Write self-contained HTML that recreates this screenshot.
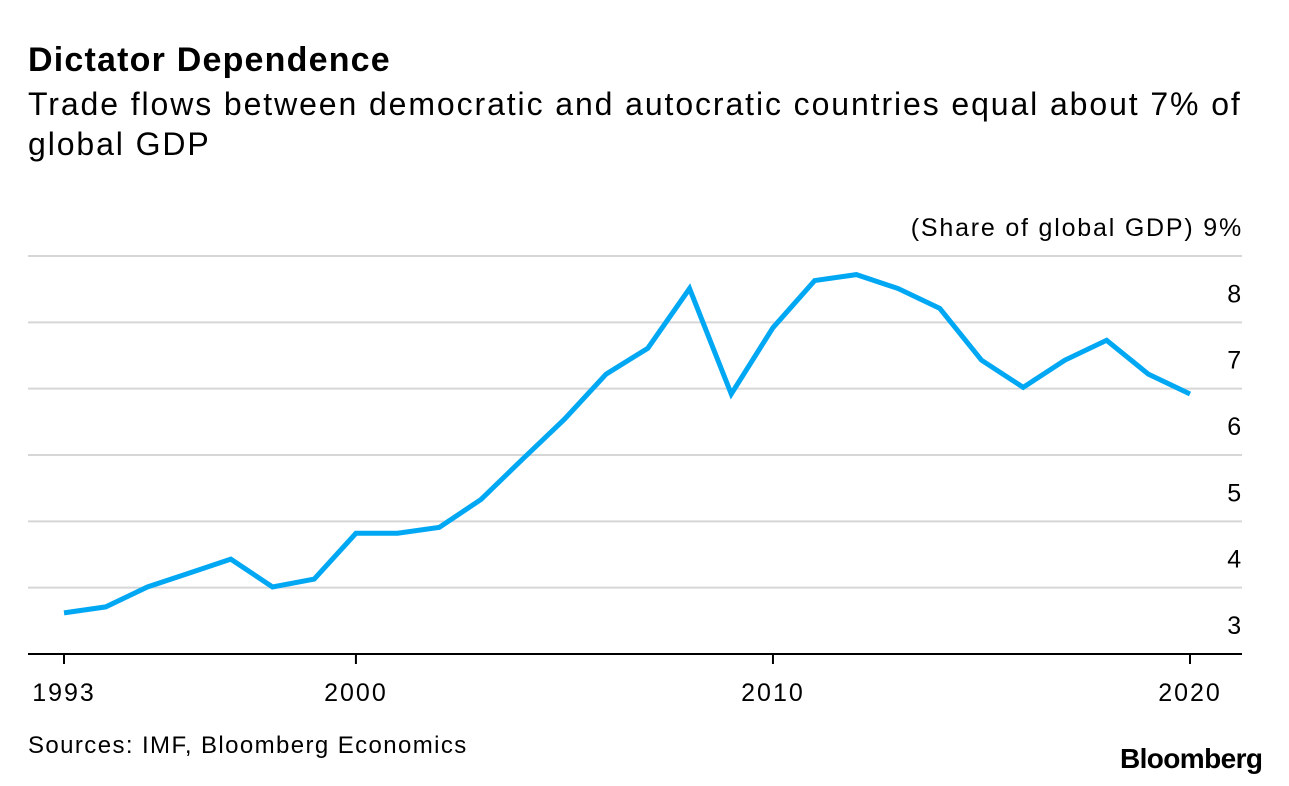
<!DOCTYPE html>
<html><head><meta charset="utf-8"><style>
body{margin:0;background:#fff;font-family:"Liberation Sans",Arial,sans-serif;}
#wrap{position:relative;width:1289px;height:786px;overflow:hidden;}
.t{position:absolute;white-space:nowrap;color:#000;}
</style></head><body>
<div id="wrap">
<div class="t" style="left:28px;top:41px;font-size:34px;font-weight:bold;letter-spacing:1.2px;">Dictator Dependence</div>
<div class="t" style="left:28px;top:84px;font-size:32px;line-height:40px;letter-spacing:1.9px;white-space:normal;width:1240px;">Trade flows between democratic and autocratic countries equal about 7% of global GDP</div>
<svg id="chart" width="1289" height="786" style="position:absolute;left:0;top:0"></svg>
<div class="t" style="left:28px;top:732px;font-size:24px;letter-spacing:1.4px;">Sources: IMF, Bloomberg Economics</div>
<div class="t" style="left:1120px;top:743px;font-size:28px;font-weight:bold;letter-spacing:-0.6px;">Bloomberg</div>
</div>
<script>
const years=[1993,1994,1995,1996,1997,1998,1999,2000,2001,2002,2003,2004,2005,2006,2007,2008,2009,2010,2011,2012,2013,2014,2015,2016,2017,2018,2019,2020];
const values=[3.62,3.71,4.01,4.22,4.43,4.01,4.13,4.82,4.82,4.91,5.33,5.94,6.54,7.22,7.61,8.51,6.92,7.92,8.63,8.72,8.51,8.21,7.43,7.02,7.43,7.73,7.22,6.92];
const yTicks=[3,4,5,6,7,8,9];
const yTickLabels=["3","4","5","6","7","8","(Share of global GDP) 9%"];
const xTicks=[1993,2000,2010,2020];
const NS="http://www.w3.org/2000/svg";
const svg=document.getElementById('chart');
const x=v=>64+(v-1993)*(1190-64)/27;
const y=v=>654-(v-3)*66.33;
function mk(t,a){const e=document.createElementNS(NS,t);for(const k in a)e.setAttribute(k,a[k]);svg.appendChild(e);return e;}
yTicks.forEach((t,i)=>{
 if(t>3){const g=mk('line',{x1:28,x2:1242,y1:y(t),y2:y(t),stroke:'#d6d6d6','stroke-width':2});
 
 }
 const l=mk('text',{x:1243,y:y(t)-20,'text-anchor':'end','font-size':25,'letter-spacing':1.8,'font-family':'Liberation Sans, Arial, sans-serif',fill:'#000'});
 l.textContent=yTickLabels[i];
 
 
});
const ax=mk('line',{x1:28,x2:1242,y1:654,y2:654,stroke:'#000','stroke-width':2});


xTicks.forEach(t=>{
 const tk=mk('line',{x1:x(t),x2:x(t),y1:654,y2:664,stroke:'#000','stroke-width':2});
 
 
 const l=mk('text',{x:x(t),y:701,'text-anchor':'middle','font-size':25,'letter-spacing':2,'font-family':'Liberation Sans, Arial, sans-serif',fill:'#000'});
 l.textContent=t;
 
 
});
const p=mk('polyline',{points:years.map((yr,i)=>x(yr)+','+y(values[i])).join(' '),fill:'none',stroke:'#00a8f4','stroke-width':5,'stroke-linejoin':'miter','stroke-linecap':'butt'});


</script>
</body></html>
